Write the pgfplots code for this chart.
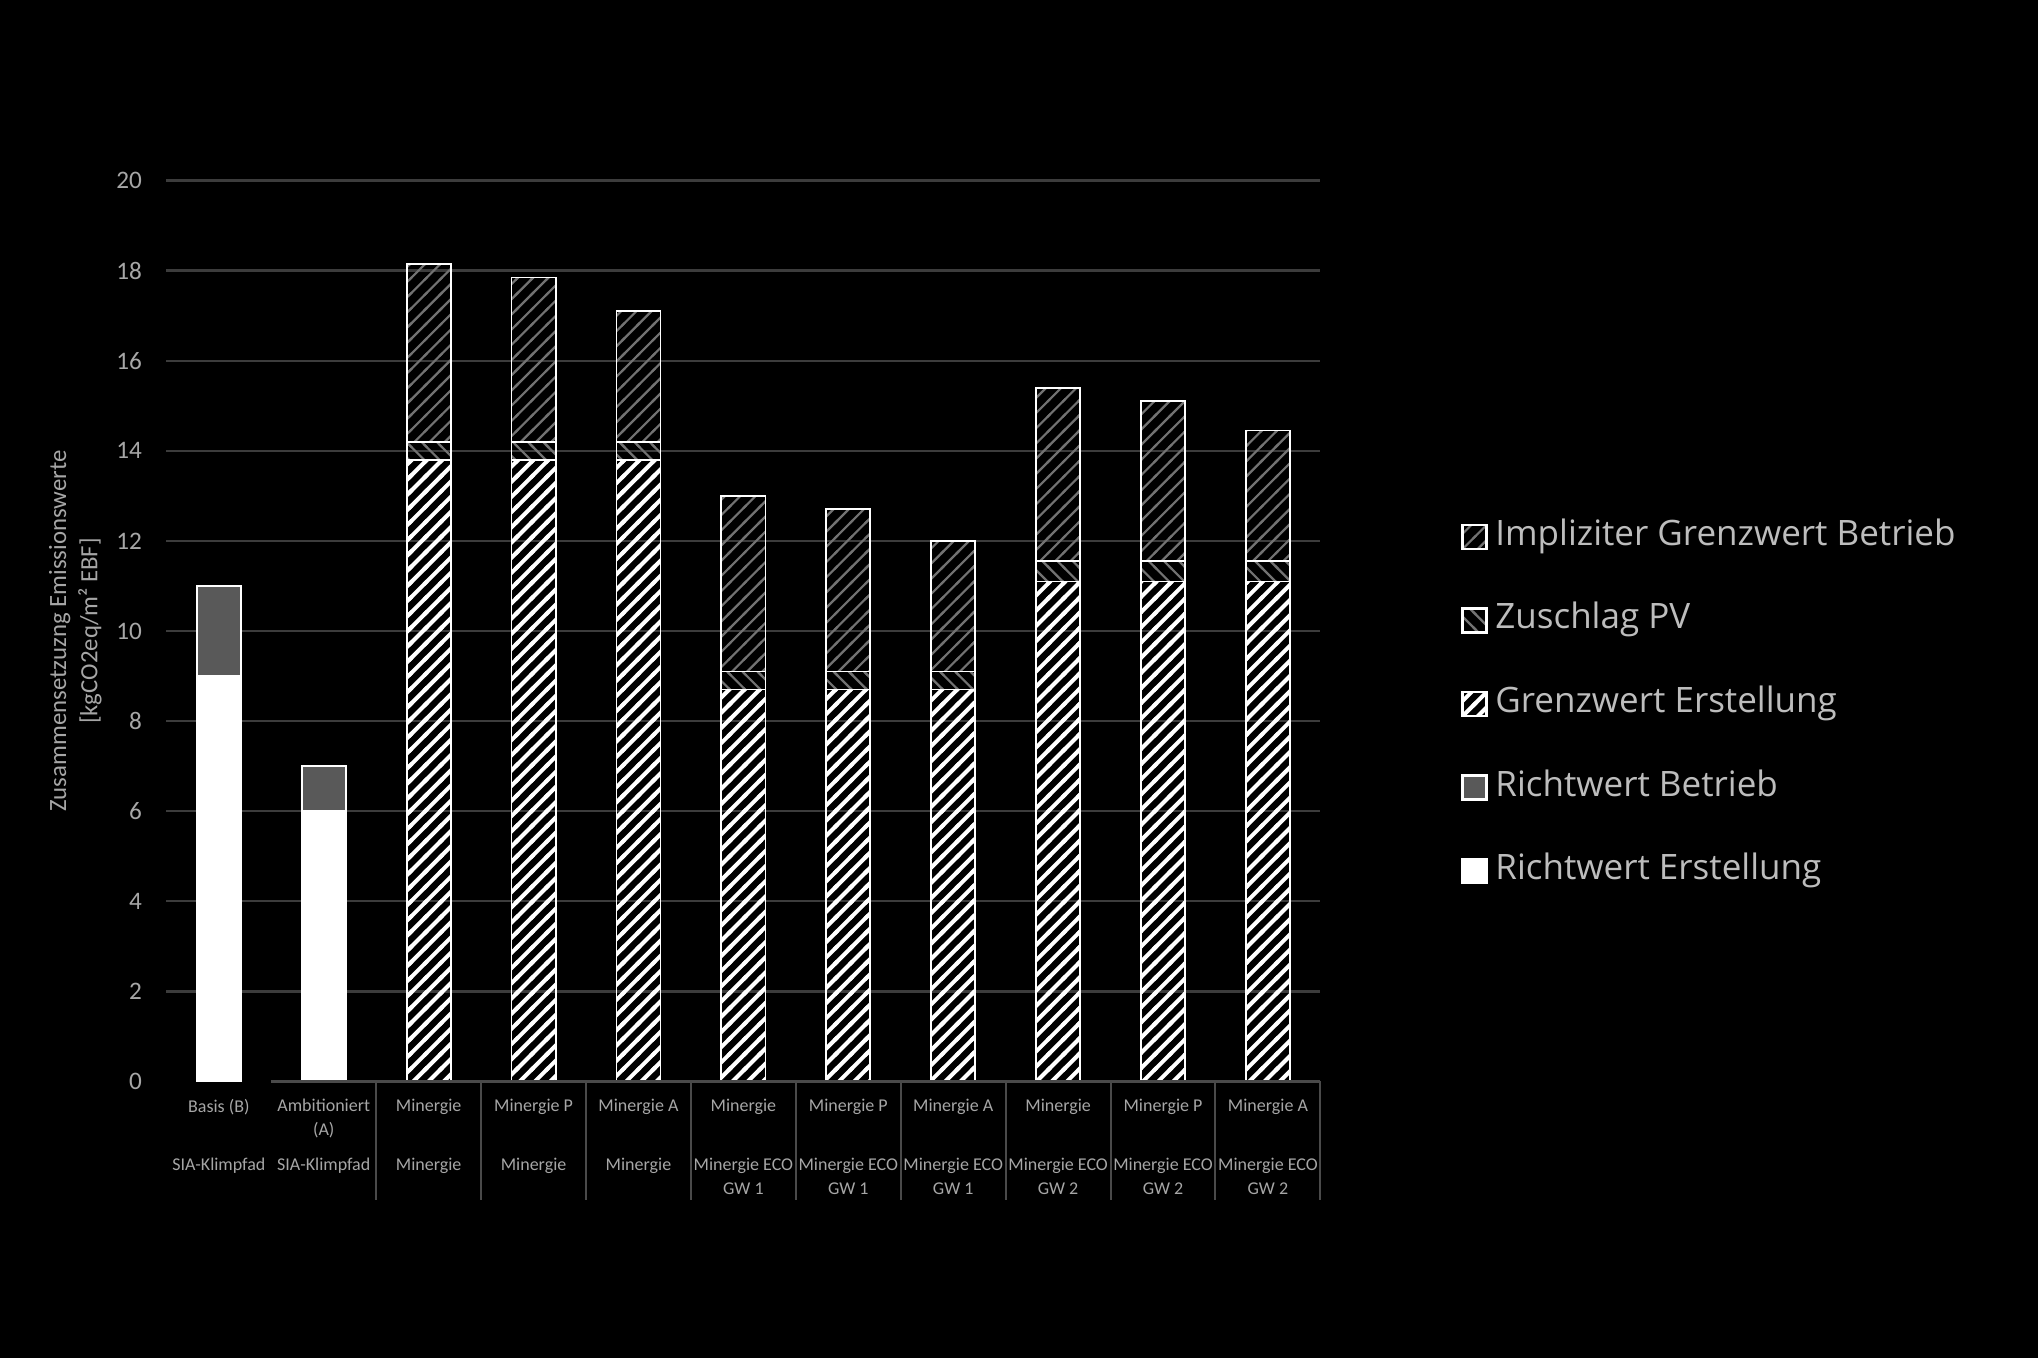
\documentclass[border=0pt]{standalone}
\usepackage{fontspec}
\setmainfont{Carlito}
\newfontfamily\legfont{Open Sans}
\usepackage{pgfplots}
\usepackage{pgfplotstable}
\pgfplotsset{compat=1.18}
\usetikzlibrary{patterns}
\definecolor{txt}{HTML}{A6A6A6}
\definecolor{legtxt}{HTML}{BDBDBD}
\definecolor{gridc}{HTML}{3C3C3C}
\definecolor{sepc}{HTML}{4A4A4A}
\definecolor{betr}{HTML}{595959}
\definecolor{stripe}{HTML}{727272}

\pgfdeclarepatternformonly{thickne}{\pgfqpoint{-1pt}{-1pt}}{\pgfqpoint{4.8pt}{4.8pt}}{\pgfqpoint{3.8pt}{3.8pt}}{%
  \pgfsetlinewidth{1.0pt}%
  \pgfpathmoveto{\pgfqpoint{-0.4pt}{-0.4pt}}%
  \pgfpathlineto{\pgfqpoint{4.2pt}{4.2pt}}%
  \pgfusepath{stroke}}
\pgfdeclarepatternformonly{thinne}{\pgfqpoint{-1pt}{-1pt}}{\pgfqpoint{4.8pt}{4.8pt}}{\pgfqpoint{3.8pt}{3.8pt}}{%
  \pgfsetlinewidth{0.55pt}%
  \pgfpathmoveto{\pgfqpoint{-0.4pt}{-0.4pt}}%
  \pgfpathlineto{\pgfqpoint{4.2pt}{4.2pt}}%
  \pgfusepath{stroke}}
\pgfdeclarepatternformonly{thinnw}{\pgfqpoint{-1pt}{-1pt}}{\pgfqpoint{4.8pt}{4.8pt}}{\pgfqpoint{3.8pt}{3.8pt}}{%
  \pgfsetlinewidth{0.55pt}%
  \pgfpathmoveto{\pgfqpoint{-0.4pt}{4.2pt}}%
  \pgfpathlineto{\pgfqpoint{4.2pt}{-0.4pt}}%
  \pgfusepath{stroke}}

% x: category index; RE Richtwert Erstellung, RB Richtwert Betrieb,
% GE Grenzwert Erstellung, PV Zuschlag PV, IG Impliziter Grenzwert Betrieb
\pgfplotstableread{
x RE RB GE PV IG
0 9 2 0 0 0
1 6 1 0 0 0
2 0 0 13.8 0.4 3.95
3 0 0 13.8 0.4 3.65
4 0 0 13.8 0.4 2.9
5 0 0 8.7 0.4 3.9
6 0 0 8.7 0.4 3.6
7 0 0 8.7 0.4 2.9
8 0 0 11.1 0.45 3.85
9 0 0 11.1 0.45 3.55
10 0 0 11.1 0.45 2.9
}\data

\begin{document}
\begin{tikzpicture}
\path[use as bounding box, fill=black] (-41.6pt,-69.15pt) rectangle (467.9pt,270.35pt);
\begin{axis}[
  at={(0,0)}, anchor=south west,
  scale only axis, width=288.5pt, height=225.2pt,
  ybar stacked, bar width=0.42,
  xmin=-0.5, xmax=10.5, ymin=0, ymax=20,
  enlargelimits=false, clip=false,
  axis line style={draw=none},
  major tick length=0pt,
  ytick={2,4,...,20},
  extra y ticks={0},
  extra y tick style={grid=none},
  ymajorgrids,
  grid style={gridc, line width=0.6pt},
  /pgf/number format/assume math mode=true,
  yticklabel style={font=\fontsize{6.3}{7}\selectfont, text=txt, anchor=east, inner sep=0pt, xshift=-5.9pt},
  xtick={0,...,10},
  xticklabels={Basis (B), {Ambitioniert\\(A)}, Minergie, Minergie P, Minergie A, Minergie, Minergie P, Minergie A, Minergie, Minergie P, Minergie A},
  xticklabel style={font=\fontsize{4.5}{6}\selectfont, text=txt, align=center, anchor=north, inner sep=0pt, yshift=-4.3pt},
  ylabel={Zusammensetzuzng Emissionswerte\\{[}kgCO2eq/m² EBF{]}},
  every axis y label/.style={at={(axis description cs:-0.0789,0.5)}, rotate=90, anchor=center},
  ylabel style={font=\fontsize{6.2}{7.8}\selectfont, text=txt, align=center},
  legend image code/.code={\draw[#1, line width=0.6pt] (0pt,-3pt) rectangle (6pt,3pt);},
  reverse legend,
  legend cell align=left,
  legend style={at={(axis description cs:1.1215,0.419)}, anchor=west, draw=none, fill=none,
    inner sep=0pt, font=\legfont\fontsize{8.75}{10}\selectfont, text=legtxt, row sep=12.6pt,
    nodes={inner sep=0pt, text height=6.3pt, text depth=2pt},
    /tikz/every odd column/.append style={column sep=1.9pt}},
]
\draw[sepc, line width=0.6pt] (axis cs:0.5,0) -- (axis cs:10.5,0);
\draw[sepc, line width=0.5pt] (axis cs:1.5,0) -- ++(0pt,-29.6pt);
\draw[sepc, line width=0.5pt] (axis cs:2.5,0) -- ++(0pt,-29.6pt);
\draw[sepc, line width=0.5pt] (axis cs:3.5,0) -- ++(0pt,-29.6pt);
\draw[sepc, line width=0.5pt] (axis cs:4.5,0) -- ++(0pt,-29.6pt);
\draw[sepc, line width=0.5pt] (axis cs:5.5,0) -- ++(0pt,-29.6pt);
\draw[sepc, line width=0.5pt] (axis cs:6.5,0) -- ++(0pt,-29.6pt);
\draw[sepc, line width=0.5pt] (axis cs:7.5,0) -- ++(0pt,-29.6pt);
\draw[sepc, line width=0.5pt] (axis cs:8.5,0) -- ++(0pt,-29.6pt);
\draw[sepc, line width=0.5pt] (axis cs:9.5,0) -- ++(0pt,-29.6pt);
\draw[sepc, line width=0.5pt] (axis cs:10.5,0) -- ++(0pt,-29.6pt);
\addplot[draw=white, line width=0.45pt, fill=white] table[x=x, y=RE] {\data};
\addlegendentry{Richtwert Erstellung}
\addplot[draw=white, line width=0.45pt, fill=betr] table[x=x, y=RB] {\data};
\addlegendentry{Richtwert Betrieb}
\addplot[draw=white, line width=0.45pt, pattern=thickne, pattern color=white] table[x=x, y=GE] {\data};
\addlegendentry{Grenzwert Erstellung}
\addplot[draw=white, line width=0.45pt, pattern=thinnw, pattern color=stripe] table[x=x, y=PV] {\data};
\addlegendentry{Zuschlag PV}
\addplot[draw=white, line width=0.45pt, pattern=thinne, pattern color=stripe] table[x=x, y=IG] {\data};
\addlegendentry{Impliziter Grenzwert Betrieb}
\node[font=\fontsize{4.5}{6}\selectfont, text=txt, align=center, anchor=north, inner sep=0pt] at (axis cs:0,0) [yshift=-19pt] {SIA-Klimpfad};
\node[font=\fontsize{4.5}{6}\selectfont, text=txt, align=center, anchor=north, inner sep=0pt] at (axis cs:1,0) [yshift=-19pt] {SIA-Klimpfad};
\node[font=\fontsize{4.5}{6}\selectfont, text=txt, align=center, anchor=north, inner sep=0pt] at (axis cs:2,0) [yshift=-19pt] {Minergie};
\node[font=\fontsize{4.5}{6}\selectfont, text=txt, align=center, anchor=north, inner sep=0pt] at (axis cs:3,0) [yshift=-19pt] {Minergie};
\node[font=\fontsize{4.5}{6}\selectfont, text=txt, align=center, anchor=north, inner sep=0pt] at (axis cs:4,0) [yshift=-19pt] {Minergie};
\node[font=\fontsize{4.5}{6}\selectfont, text=txt, align=center, anchor=north, inner sep=0pt] at (axis cs:5,0) [yshift=-19pt] {Minergie ECO\\GW 1};
\node[font=\fontsize{4.5}{6}\selectfont, text=txt, align=center, anchor=north, inner sep=0pt] at (axis cs:6,0) [yshift=-19pt] {Minergie ECO\\GW 1};
\node[font=\fontsize{4.5}{6}\selectfont, text=txt, align=center, anchor=north, inner sep=0pt] at (axis cs:7,0) [yshift=-19pt] {Minergie ECO\\GW 1};
\node[font=\fontsize{4.5}{6}\selectfont, text=txt, align=center, anchor=north, inner sep=0pt] at (axis cs:8,0) [yshift=-19pt] {Minergie ECO\\GW 2};
\node[font=\fontsize{4.5}{6}\selectfont, text=txt, align=center, anchor=north, inner sep=0pt] at (axis cs:9,0) [yshift=-19pt] {Minergie ECO\\GW 2};
\node[font=\fontsize{4.5}{6}\selectfont, text=txt, align=center, anchor=north, inner sep=0pt] at (axis cs:10,0) [yshift=-19pt] {Minergie ECO\\GW 2};
\end{axis}
\end{tikzpicture}
\end{document}
